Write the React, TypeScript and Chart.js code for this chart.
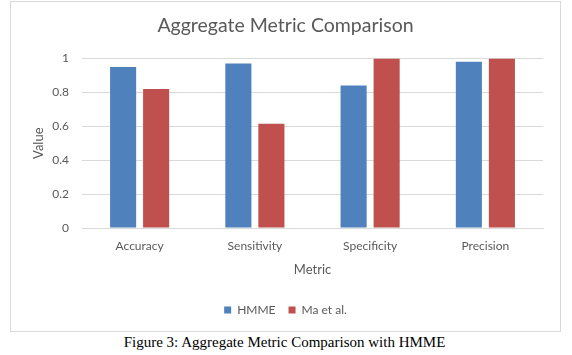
import React, { useEffect, useRef } from "react";
import { Chart, registerables } from "chart.js";

Chart.register(...registerables);

const categories = ["Accuracy", "Sensitivity", "Specificity", "Precision"];
const hmmeValues = [0.95, 0.97, 0.84, 0.98];
const maValues = [0.82, 0.615, 1.0, 1.0];
const seriesNames = ["HMME", "Ma et al."];
const chartTitle = "Aggregate Metric Comparison";
const xTitle = "Metric";
const yTitle = "Value";
const caption = "Figure 3: Aggregate Metric Comparison with HMME";

const FONT = "Lato, 'Open Sans', sans-serif";
const GRAY = "#595959";

export default function App() {
  const canvasRef = useRef<HTMLCanvasElement | null>(null);

  useEffect(() => {
    const canvas = canvasRef.current;
    if (!canvas) return;
    const chart = new Chart(canvas, {
      type: "bar",
      data: {
        labels: categories,
        datasets: [
          {
            label: seriesNames[0],
            data: hmmeValues,
            backgroundColor: "#4f81bd",
            categoryPercentage: 0.573,
            barPercentage: 0.79,
          },
          {
            label: seriesNames[1],
            data: maValues,
            backgroundColor: "#c0504d",
            categoryPercentage: 0.573,
            barPercentage: 0.79,
          },
        ],
      },
      options: {
        responsive: false,
        animation: false,
        devicePixelRatio: 1,
        layout: { padding: { left: 0, right: 0, top: 0, bottom: 5 } },
        plugins: {
          title: {
            display: true,
            text: chartTitle,
            color: GRAY,
            font: { family: FONT, size: 19.5, weight: "normal" },
            padding: { top: 12, bottom: 21 },
          },
          legend: {
            position: "bottom",
            labels: {
              boxWidth: 7,
              boxHeight: 7,
              padding: 13,
              color: GRAY,
              font: { family: FONT, size: 12 },
            },
          },
          tooltip: { enabled: false },
        },
        scales: {
          x: {
            grid: { display: false, drawTicks: false },
            border: { display: true, color: "#d9d9d9" },
            ticks: {
              color: GRAY,
              font: { family: FONT, size: 12 },
              padding: 11,
              maxRotation: 0,
            },
            title: {
              display: true,
              text: xTitle,
              color: GRAY,
              font: { family: FONT, size: 13 },
              padding: { top: 4, bottom: 13 },
            },
            afterFit: (scale: any) => {
              scale.height = 63;
            },
          },
          y: {
            min: 0,
            max: 1,
            grid: { color: "#d9d9d9", drawTicks: false },
            border: { display: false },
            ticks: {
              stepSize: 0.2,
              color: GRAY,
              font: { family: FONT, size: 12 },
              padding: 13,
              callback: (v: any) => String(Math.round(Number(v) * 10) / 10),
            },
            title: {
              display: true,
              text: yTitle,
              color: GRAY,
              font: { family: FONT, size: 13 },
              padding: { top: 20, bottom: 4 },
            },
            afterFit: (scale: any) => {
              scale.width = 71;
            },
          },
          yRight: {
            type: "linear",
            position: "right",
            display: true,
            grid: { display: false, drawTicks: false },
            border: { display: false },
            ticks: { display: false },
            afterFit: (scale: any) => {
              scale.width = 17;
            },
          },
        },
      },
    });
    return () => chart.destroy();
  }, []);

  return (
    <div
      style={{
        position: "fixed",
        left: 0,
        top: 0,
        width: 572,
        height: 355,
        background: "#fff",
      }}
    >
      <div
        style={{
          position: "absolute",
          left: 10,
          top: 1,
          width: 551,
          height: 331,
          boxSizing: "border-box",
          border: "1px solid #d9d9d9",
        }}
      >
        <canvas ref={canvasRef} width={549} height={329} style={{ display: "block" }} />
      </div>
      <div
        style={{
          position: "absolute",
          left: 0,
          top: 334,
          width: 569,
          textAlign: "center",
          fontFamily: "'Liberation Serif', 'Times New Roman', serif",
          fontSize: 15,
          lineHeight: "17px",
          color: "#000",
        }}
      >
        {caption}
      </div>
    </div>
  );
}
